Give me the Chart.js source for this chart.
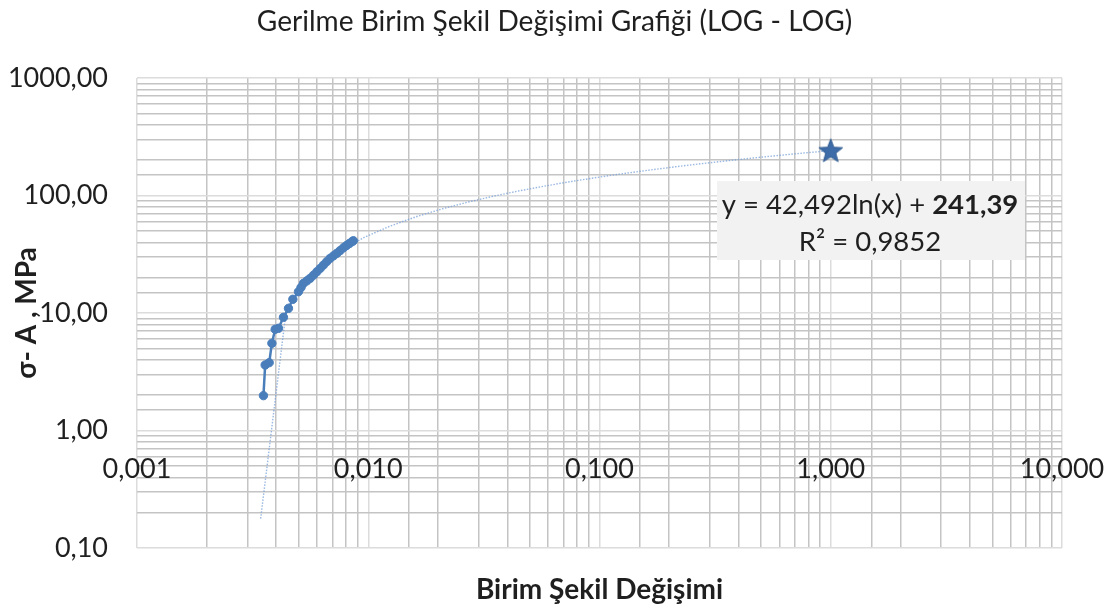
<!DOCTYPE html>
<html>
<head>
<meta charset="utf-8">
<script src="https://cdn.jsdelivr.net/npm/chart.js@4.4.0/dist/chart.umd.min.js"></script>
<style>
  body { margin: 0; background: #fff; }
  canvas { display: block; }
</style>
</head>
<body>
<canvas id="logChart" width="1109" height="611"></canvas>
<script>
// measured points (strain, stress MPa)
const STRAIN = [0.003522, 0.003583, 0.003729, 0.003831, 0.003959, 0.004091, 0.004299, 0.004519, 0.004721, 0.004992,
  0.00512, 0.005248, 0.00543, 0.00561, 0.0058, 0.005996, 0.0062, 0.006404, 0.00662, 0.006846,
  0.00708, 0.007319, 0.00756, 0.007818, 0.00805, 0.00828, 0.0085, 0.00862]
const STRESS = [1.98, 3.61, 3.78, 5.52, 7.27, 7.41, 9.19, 10.96, 13.08, 15.18,
  16.5, 17.9, 18.8, 19.74, 21.0, 22.46, 24.0, 25.62, 27.4, 29.21,
  30.7, 32.22, 34.0, 35.95, 37.5, 39.0, 40.45, 41.2]

// star marker at x = 1
const STAR_X = [1]
const STAR_Y = [241.39]

// trendline y = a ln(x) + b
const TREND_A = 42.492
const TREND_B = 241.39
const TREND_RANGE = [0.003425, 1]
const TREND_STEPS = 22

const X_TICK_VALUES = [0.001, 0.01, 0.1, 1, 10]
const X_TICK_LABELS = ['0,001', '0,010', '0,100', '1,000', '10,000']
const Y_TICK_VALUES = [0.1, 1, 10, 100, 1000]
const Y_TICK_LABELS = ['0,10', '1,00', '10,00', '100,00', '1000,00']

const TITLE = 'Gerilme Birim Şekil Değişimi Grafiği (LOG - LOG)'
const X_TITLE = 'Birim Şekil Değişimi'
const Y_TITLE = 'σ- A , MPa'
const EQ_MAIN = 'y = 42,492ln(x) + '
const EQ_BOLD = '241,39'
const EQ_R2 = 'R² = 0,9852'

const FONT = 'Lato'
const TEXT = '#1f1f1f'

const points = STRAIN.map((x, i) => ({ x: x, y: STRESS[i] }))
const starPoints = STAR_X.map((x, i) => ({ x: x, y: STAR_Y[i] }))

const trendPoints = []
for (let i = 0; i <= TREND_STEPS; i++) {
    const x = TREND_RANGE[0] * Math.pow(TREND_RANGE[1] / TREND_RANGE[0], i / TREND_STEPS)
    trendPoints.push({ x: x, y: TREND_A * Math.log(x) + TREND_B })
}

function findLabel(values, labels, v) {
    for (let i = 0; i < values.length; i++) {
        if (Math.abs(v - values[i]) < values[i] * 1e-6) return labels[i]
    }
    return ''
}

function isDecade(v) {
    const l = Math.log10(v)
    return Math.abs(l - Math.round(l)) < 1e-6
}

function makeStar() {
    const c = document.createElement('canvas')
    c.width = 30
    c.height = 30
    const g = c.getContext('2d')
    g.beginPath()
    for (let i = 0; i < 10; i++) {
        const r = i % 2 === 0 ? 12.5 : 5.3
        const a = -Math.PI / 2 + i * Math.PI / 5
        const px = 15 + r * Math.cos(a)
        const py = 16 + r * Math.sin(a)
        if (i === 0) g.moveTo(px, py)
        else g.lineTo(px, py)
    }
    g.closePath()
    g.fillStyle = '#3e6ca8'
    g.fill()
    g.strokeStyle = '#2f5a90'
    g.lineWidth = 1
    g.stroke()
    return c
}

const gridColor = (ctx) => isDecade(ctx.tick.value) ? '#dcdcdc' : '#c4c4c4'

const overlay = {
    id: 'overlay',
    afterDraw(chart) {
        const ctx = chart.ctx
        const xs = chart.scales.x
        const ys = chart.scales.y
        ctx.save()
        // x tick labels sit under the y = 1 line (axis crosses at 1)
        ctx.fillStyle = TEXT
        ctx.font = '27px ' + FONT
        ctx.textAlign = 'center'
        ctx.textBaseline = 'middle'
        const yAt = ys.getPixelForValue(1) + 39
        X_TICK_VALUES.forEach((v, i) => {
            ctx.fillText(X_TICK_LABELS[i], xs.getPixelForValue(v), yAt)
        })

        // trendline label box
        ctx.fillStyle = '#f2f2f2'
        ctx.fillRect(717, 181, 308, 79)
        ctx.fillStyle = TEXT
        ctx.font = '27.5px ' + FONT
        const w1 = ctx.measureText(EQ_MAIN).width
        ctx.font = 'bold 27.5px ' + FONT
        const w2 = ctx.measureText(EQ_BOLD).width
        const cx = 870
        const start = cx - (w1 + w2) / 2
        ctx.textAlign = 'left'
        ctx.font = '27.5px ' + FONT
        ctx.fillText(EQ_MAIN, start, 205)
        ctx.font = 'bold 27.5px ' + FONT
        ctx.fillText(EQ_BOLD, start + w1, 205)
        ctx.font = '27.5px ' + FONT
        ctx.textAlign = 'center'
        ctx.fillText(EQ_R2, cx, 242)
        ctx.restore()
    }
}

new Chart(document.getElementById('logChart'), {
    type: 'scatter',
    data: {
        datasets: [
            {
                data: points,
                showLine: true,
                borderColor: '#4a7ebb',
                backgroundColor: '#4a7ebb',
                borderWidth: 2.5,
                pointRadius: 4.2,
                pointBorderWidth: 1
            },
            {
                data: starPoints,
                pointStyle: makeStar(),
                pointRadius: 13
            },
            {
                data: trendPoints,
                showLine: true,
                borderColor: 'rgba(120,160,215,0.75)',
                borderWidth: 1.4,
                borderDash: [1.5, 1.5],
                pointRadius: 0
            }
        ]
    },
    options: {
        responsive: false,
        devicePixelRatio: 1,
        animation: false,
        events: [],
        layout: { padding: 0 },
        plugins: {
            legend: { display: false },
            tooltip: { enabled: false },
            title: {
                display: true,
                text: TITLE,
                color: TEXT,
                font: { family: FONT, size: 28.1, weight: 'normal' },
                padding: { top: 5, bottom: 39.3 }
            }
        },
        scales: {
            x: {
                type: 'logarithmic',
                position: 'bottom',
                min: 0.001,
                max: 10,
                border: { display: false },
                grid: { color: gridColor, lineWidth: 1.5, drawTicks: false },
                ticks: { display: false },
                title: {
                    display: true,
                    text: X_TITLE,
                    color: TEXT,
                    font: { family: FONT, size: 28, weight: 'bold' },
                    padding: { top: 0, bottom: 4 }
                },
                afterFit(scale) { scale.height = 63 }
            },
            y: {
                type: 'logarithmic',
                position: 'left',
                min: 0.1,
                max: 1000,
                border: { display: false },
                grid: { color: gridColor, lineWidth: 1.5, drawTicks: false },
                ticks: {
                    autoSkip: false,
                    color: TEXT,
                    padding: 29,
                    font: { family: FONT, size: 27 },
                    callback: (v) => findLabel(Y_TICK_VALUES, Y_TICK_LABELS, v)
                },
                title: {
                    display: true,
                    text: Y_TITLE,
                    color: TEXT,
                    font: { family: FONT, size: 28, weight: 'bold' },
                    padding: { top: 10, bottom: 0 }
                },
                afterFit(scale) { scale.width = 137 }
            },
            // empty right margin so the title stays centred on the whole canvas
            yRight: {
                position: 'right',
                border: { display: false },
                grid: { display: false, drawTicks: false },
                ticks: { display: false },
                afterFit(scale) { scale.width = 47 }
            }
        }
    },
    plugins: [overlay]
})
</script>
</body>
</html>
